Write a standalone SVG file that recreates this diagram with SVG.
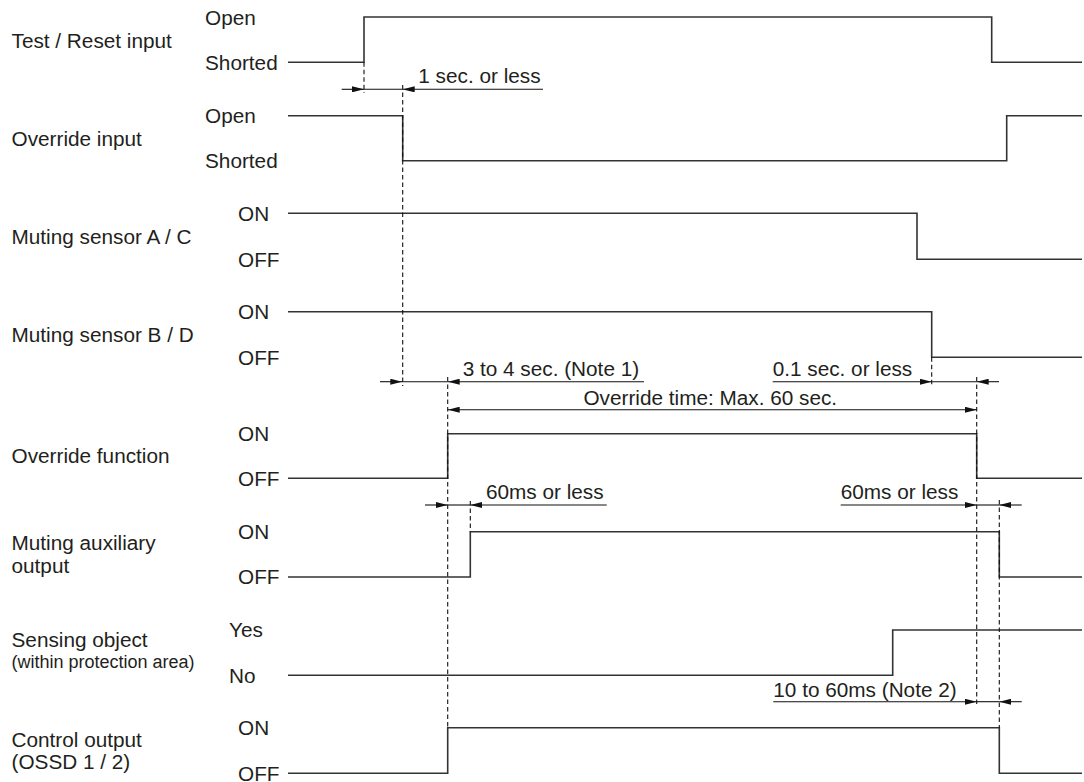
<svg xmlns="http://www.w3.org/2000/svg" width="1084" height="782" viewBox="0 0 1084 782">
<style>
text{font-family:"Liberation Sans",Arial,sans-serif;font-size:20.75px;fill:#231f20}
.small{font-size:18px}
.sig{fill:none;stroke:#333;stroke-width:1.6}
.dim{fill:none;stroke:#111;stroke-width:1.1}
.dash{fill:none;stroke:#111;stroke-width:1.1;stroke-dasharray:4.5 3}
.arr{marker-end:url(#ah)}
</style>
<defs>
<marker id="ah" viewBox="0 0 12 6" refX="12" refY="3" markerWidth="12" markerHeight="6" markerUnits="userSpaceOnUse" orient="auto">
<path d="M0,0 L12,3 L0,6 z" fill="#111"/>
</marker>
</defs>
<rect width="1084" height="782" fill="#fff"/>

<g id="test-reset">
<text x="11.5" y="48.3">Test / Reset input</text>
<text x="205" y="24.6">Open</text>
<text x="205" y="69.7">Shorted</text>
<path class="sig" d="M288,62.3 H364 V17 H991.7 V62.3 H1082"/>
</g>

<g id="override-input">
<text x="11.5" y="145.6">Override input</text>
<text x="205" y="123.1">Open</text>
<text x="205" y="168.1">Shorted</text>
<path class="sig" d="M288,115.7 H402.7 V160.7 H1006.7 V115.7 H1082"/>
</g>

<g id="muting-a">
<text x="11.5" y="243.7">Muting sensor A / C</text>
<text x="238" y="220.7">ON</text>
<text x="238" y="266.7">OFF</text>
<path class="sig" d="M288,213.3 H917 V259.3 H1082"/>
</g>

<g id="muting-b">
<text x="11.5" y="341.9">Muting sensor B / D</text>
<text x="238" y="319.1">ON</text>
<text x="238" y="364.7">OFF</text>
<path class="sig" d="M288,311.7 H931.7 V357.3 H1082"/>
</g>

<g id="override-function">
<text x="11.5" y="463.4">Override function</text>
<text x="238" y="441.1">ON</text>
<text x="238" y="485.7">OFF</text>
<path class="sig" d="M288,478.3 H447.7 V433.7 H976.7 V478.3 H1082"/>
</g>

<g id="muting-aux">
<text x="11.5" y="550">Muting auxiliary</text>
<text x="11.5" y="573">output</text>
<text x="238" y="539.1">ON</text>
<text x="238" y="584.4">OFF</text>
<path class="sig" d="M288,577 H470.3 V531.7 H999.3 V577 H1082"/>
</g>

<g id="sensing-object">
<text x="11.5" y="646.5">Sensing object</text>
<text class="small" x="11.5" y="668">(within protection area)</text>
<text x="229" y="637.4">Yes</text>
<text x="229" y="682.7">No</text>
<path class="sig" d="M288,675.3 H892.7 V630 H1082"/>
</g>

<g id="control-output">
<text x="11.5" y="747">Control output</text>
<text x="11.5" y="769">(OSSD 1 / 2)</text>
<text x="238" y="735.1">ON</text>
<text x="238" y="780.7">OFF</text>
<path class="sig" d="M288,773.3 H447.7 V727.7 H999.3 V773.3 H1082"/>
</g>

<g id="connectors">
<path class="dash" d="M364,62.3 V93"/>
<path class="dash" d="M402.7,85 V386"/>
<path class="dash" d="M447.7,377 V727.7"/>
<path class="dash" d="M470.3,501 V531.7"/>
<path class="dash" d="M931.7,357.3 V385"/>
<path class="dash" d="M976.7,377 V706"/>
<path class="dash" d="M999.3,500 V727.7"/>

<path class="dim" d="M364,89.3 H402.7"/>
<path class="dim arr" d="M341.7,89.3 H364"/>
<path class="dim arr" d="M543,89.3 H402.7"/>

<path class="dim" d="M402.3,381.7 H447.7"/>
<path class="dim arr" d="M380,381.7 H402.3"/>
<path class="dim arr" d="M644,381.7 H447.7"/>

<path class="dim" d="M931.7,381.7 H976.7"/>
<path class="dim arr" d="M772.7,381.7 H931.7"/>
<path class="dim arr" d="M999,381.7 H976.7"/>

<path class="dim arr" d="M712,409.7 H976.7"/>
<path class="dim arr" d="M712,409.7 H447.7"/>

<path class="dim" d="M447.7,505 H470.3"/>
<path class="dim arr" d="M425,505 H447.7"/>
<path class="dim arr" d="M606.7,505 H470.3"/>

<path class="dim" d="M976.7,505 H999.3"/>
<path class="dim arr" d="M840.7,505 H976.7"/>
<path class="dim arr" d="M1021.7,505 H999.3"/>

<path class="dim" d="M976.7,701.7 H999.3"/>
<path class="dim arr" d="M773.3,701.7 H976.7"/>
<path class="dim arr" d="M1021.7,701.7 H999.3"/>

<text x="418.3" y="83">1 sec. or less</text>
<text x="462.7" y="376">3 to 4 sec. (Note 1)</text>
<text x="772.7" y="376">0.1 sec. or less</text>
<text x="710.3" y="405.3" text-anchor="middle">Override time: Max. 60 sec.</text>
<text x="486" y="499">60ms or less</text>
<text x="840.7" y="499.3">60ms or less</text>
<text x="773.3" y="696.7">10 to 60ms (Note 2)</text>
</g>
</svg>
